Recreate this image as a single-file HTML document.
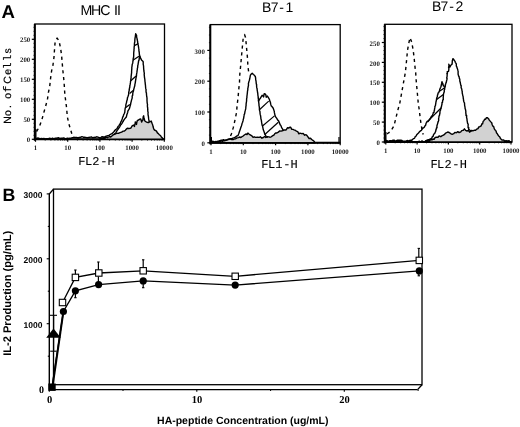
<!DOCTYPE html>
<html><head><meta charset="utf-8"><style>html,body{margin:0;padding:0;background:#fff;width:520px;height:427px;overflow:hidden;}svg{display:block;will-change:transform;text-rendering:geometricPrecision;}</style></head>
<body><svg width="520" height="427" viewBox="0 0 520 427"><style>
.t{font-family:"Liberation Sans",sans-serif;}
.tk{font-family:"Liberation Serif",serif;font-weight:bold;font-size:6.8px;fill:#222;}
.ax{font-family:"Liberation Sans",sans-serif;font-size:11px;fill:#000;stroke:#000;stroke-width:0.3px;}
.h{fill:none;stroke:#000;stroke-width:1.4;stroke-linejoin:round;}
.d{fill:none;stroke:#000;stroke-width:1.4;stroke-dasharray:3.2 3.6;}
.g{fill:#d2d2d2;stroke:#000;stroke-width:1.4;stroke-linejoin:round;}
.yl{font-family:"Liberation Sans",sans-serif;font-size:10px;letter-spacing:2.2px;fill:#000;stroke:#000;stroke-width:0.25px;}
.fr{fill:none;stroke:#000;stroke-width:1.3;}
</style>
<text class="t" x="1.6" y="17.7" font-size="18.6" font-weight="bold">A</text>
<text class="t" x="2.4" y="200.9" font-size="17.8" font-weight="bold">B</text>
<rect class="fr" x="34.8" y="24" width="129.7" height="115.30000000000001"/>
<line x1="34.8" y1="24" x2="34.8" y2="140.8" stroke="#000" stroke-width="2"/>
<line x1="34.8" y1="139.3" x2="164.5" y2="139.3" stroke="#000" stroke-width="2"/>
<line x1="33.4" y1="139.3" x2="34.8" y2="139.3" stroke="#000" stroke-width="0.7"/>
<line x1="33.4" y1="135.3" x2="34.8" y2="135.3" stroke="#000" stroke-width="0.7"/>
<line x1="33.4" y1="131.3" x2="34.8" y2="131.3" stroke="#000" stroke-width="0.7"/>
<line x1="33.4" y1="127.3" x2="34.8" y2="127.3" stroke="#000" stroke-width="0.7"/>
<line x1="33.4" y1="123.3" x2="34.8" y2="123.3" stroke="#000" stroke-width="0.7"/>
<line x1="33.4" y1="119.3" x2="34.8" y2="119.3" stroke="#000" stroke-width="0.7"/>
<line x1="33.4" y1="115.3" x2="34.8" y2="115.3" stroke="#000" stroke-width="0.7"/>
<line x1="33.4" y1="111.3" x2="34.8" y2="111.3" stroke="#000" stroke-width="0.7"/>
<line x1="33.4" y1="107.3" x2="34.8" y2="107.3" stroke="#000" stroke-width="0.7"/>
<line x1="33.4" y1="103.3" x2="34.8" y2="103.3" stroke="#000" stroke-width="0.7"/>
<line x1="33.4" y1="99.3" x2="34.8" y2="99.3" stroke="#000" stroke-width="0.7"/>
<line x1="33.4" y1="95.3" x2="34.8" y2="95.3" stroke="#000" stroke-width="0.7"/>
<line x1="33.4" y1="91.3" x2="34.8" y2="91.3" stroke="#000" stroke-width="0.7"/>
<line x1="33.4" y1="87.3" x2="34.8" y2="87.3" stroke="#000" stroke-width="0.7"/>
<line x1="33.4" y1="83.3" x2="34.8" y2="83.3" stroke="#000" stroke-width="0.7"/>
<line x1="33.4" y1="79.3" x2="34.8" y2="79.3" stroke="#000" stroke-width="0.7"/>
<line x1="33.4" y1="75.3" x2="34.8" y2="75.3" stroke="#000" stroke-width="0.7"/>
<line x1="33.4" y1="71.3" x2="34.8" y2="71.3" stroke="#000" stroke-width="0.7"/>
<line x1="33.4" y1="67.3" x2="34.8" y2="67.3" stroke="#000" stroke-width="0.7"/>
<line x1="33.4" y1="63.3" x2="34.8" y2="63.3" stroke="#000" stroke-width="0.7"/>
<line x1="33.4" y1="59.3" x2="34.8" y2="59.3" stroke="#000" stroke-width="0.7"/>
<line x1="33.4" y1="55.3" x2="34.8" y2="55.3" stroke="#000" stroke-width="0.7"/>
<line x1="33.4" y1="51.3" x2="34.8" y2="51.3" stroke="#000" stroke-width="0.7"/>
<line x1="33.4" y1="47.3" x2="34.8" y2="47.3" stroke="#000" stroke-width="0.7"/>
<line x1="33.4" y1="43.3" x2="34.8" y2="43.3" stroke="#000" stroke-width="0.7"/>
<line x1="33.4" y1="39.3" x2="34.8" y2="39.3" stroke="#000" stroke-width="0.7"/>
<line x1="33.4" y1="35.3" x2="34.8" y2="35.3" stroke="#000" stroke-width="0.7"/>
<line x1="33.4" y1="31.3" x2="34.8" y2="31.3" stroke="#000" stroke-width="0.7"/>
<line x1="33.4" y1="27.3" x2="34.8" y2="27.3" stroke="#000" stroke-width="0.7"/>
<line x1="31.799999999999997" y1="139.3" x2="34.8" y2="139.3" stroke="#000" stroke-width="1.2"/>
<text class="tk" x="30.2" y="142.4" text-anchor="end">0</text>
<line x1="31.799999999999997" y1="119.30000000000001" x2="34.8" y2="119.30000000000001" stroke="#000" stroke-width="1.2"/>
<text class="tk" x="30.2" y="122.4" text-anchor="end">50</text>
<line x1="31.799999999999997" y1="99.30000000000001" x2="34.8" y2="99.30000000000001" stroke="#000" stroke-width="1.2"/>
<text class="tk" x="30.2" y="102.4" text-anchor="end">100</text>
<line x1="31.799999999999997" y1="79.30000000000001" x2="34.8" y2="79.30000000000001" stroke="#000" stroke-width="1.2"/>
<text class="tk" x="30.2" y="82.4" text-anchor="end">150</text>
<line x1="31.799999999999997" y1="59.30000000000001" x2="34.8" y2="59.30000000000001" stroke="#000" stroke-width="1.2"/>
<text class="tk" x="30.2" y="62.40000000000001" text-anchor="end">200</text>
<line x1="31.799999999999997" y1="39.30000000000001" x2="34.8" y2="39.30000000000001" stroke="#000" stroke-width="1.2"/>
<text class="tk" x="30.2" y="42.40000000000001" text-anchor="end">250</text>
<line x1="35.5" y1="139.3" x2="35.5" y2="141.8" stroke="#000" stroke-width="1.2"/>
<text class="tk" x="35.5" y="150.3" text-anchor="middle">1</text>
<line x1="45.2" y1="139.3" x2="45.2" y2="140.60000000000002" stroke="#000" stroke-width="0.8"/>
<line x1="50.9" y1="139.3" x2="50.9" y2="140.60000000000002" stroke="#000" stroke-width="0.8"/>
<line x1="54.9" y1="139.3" x2="54.9" y2="140.60000000000002" stroke="#000" stroke-width="0.8"/>
<line x1="58.0" y1="139.3" x2="58.0" y2="140.60000000000002" stroke="#000" stroke-width="0.8"/>
<line x1="60.6" y1="139.3" x2="60.6" y2="140.60000000000002" stroke="#000" stroke-width="0.8"/>
<line x1="62.7" y1="139.3" x2="62.7" y2="140.60000000000002" stroke="#000" stroke-width="0.8"/>
<line x1="64.6" y1="139.3" x2="64.6" y2="140.60000000000002" stroke="#000" stroke-width="0.8"/>
<line x1="66.2" y1="139.3" x2="66.2" y2="140.60000000000002" stroke="#000" stroke-width="0.8"/>
<line x1="67.7" y1="139.3" x2="67.7" y2="141.8" stroke="#000" stroke-width="1.2"/>
<text class="tk" x="67.7" y="150.3" text-anchor="middle">10</text>
<line x1="77.4" y1="139.3" x2="77.4" y2="140.60000000000002" stroke="#000" stroke-width="0.8"/>
<line x1="83.1" y1="139.3" x2="83.1" y2="140.60000000000002" stroke="#000" stroke-width="0.8"/>
<line x1="87.1" y1="139.3" x2="87.1" y2="140.60000000000002" stroke="#000" stroke-width="0.8"/>
<line x1="90.2" y1="139.3" x2="90.2" y2="140.60000000000002" stroke="#000" stroke-width="0.8"/>
<line x1="92.8" y1="139.3" x2="92.8" y2="140.60000000000002" stroke="#000" stroke-width="0.8"/>
<line x1="94.9" y1="139.3" x2="94.9" y2="140.60000000000002" stroke="#000" stroke-width="0.8"/>
<line x1="96.8" y1="139.3" x2="96.8" y2="140.60000000000002" stroke="#000" stroke-width="0.8"/>
<line x1="98.4" y1="139.3" x2="98.4" y2="140.60000000000002" stroke="#000" stroke-width="0.8"/>
<line x1="99.9" y1="139.3" x2="99.9" y2="141.8" stroke="#000" stroke-width="1.2"/>
<text class="tk" x="99.9" y="150.3" text-anchor="middle">100</text>
<line x1="109.6" y1="139.3" x2="109.6" y2="140.60000000000002" stroke="#000" stroke-width="0.8"/>
<line x1="115.3" y1="139.3" x2="115.3" y2="140.60000000000002" stroke="#000" stroke-width="0.8"/>
<line x1="119.3" y1="139.3" x2="119.3" y2="140.60000000000002" stroke="#000" stroke-width="0.8"/>
<line x1="122.4" y1="139.3" x2="122.4" y2="140.60000000000002" stroke="#000" stroke-width="0.8"/>
<line x1="125.0" y1="139.3" x2="125.0" y2="140.60000000000002" stroke="#000" stroke-width="0.8"/>
<line x1="127.1" y1="139.3" x2="127.1" y2="140.60000000000002" stroke="#000" stroke-width="0.8"/>
<line x1="129.0" y1="139.3" x2="129.0" y2="140.60000000000002" stroke="#000" stroke-width="0.8"/>
<line x1="130.6" y1="139.3" x2="130.6" y2="140.60000000000002" stroke="#000" stroke-width="0.8"/>
<line x1="132.10000000000002" y1="139.3" x2="132.10000000000002" y2="141.8" stroke="#000" stroke-width="1.2"/>
<text class="tk" x="132.10000000000002" y="150.3" text-anchor="middle">1000</text>
<line x1="141.8" y1="139.3" x2="141.8" y2="140.60000000000002" stroke="#000" stroke-width="0.8"/>
<line x1="147.5" y1="139.3" x2="147.5" y2="140.60000000000002" stroke="#000" stroke-width="0.8"/>
<line x1="151.5" y1="139.3" x2="151.5" y2="140.60000000000002" stroke="#000" stroke-width="0.8"/>
<line x1="154.6" y1="139.3" x2="154.6" y2="140.60000000000002" stroke="#000" stroke-width="0.8"/>
<line x1="157.2" y1="139.3" x2="157.2" y2="140.60000000000002" stroke="#000" stroke-width="0.8"/>
<line x1="159.3" y1="139.3" x2="159.3" y2="140.60000000000002" stroke="#000" stroke-width="0.8"/>
<line x1="161.2" y1="139.3" x2="161.2" y2="140.60000000000002" stroke="#000" stroke-width="0.8"/>
<line x1="162.8" y1="139.3" x2="162.8" y2="140.60000000000002" stroke="#000" stroke-width="0.8"/>
<line x1="164.3" y1="139.3" x2="164.3" y2="141.8" stroke="#000" stroke-width="1.2"/>
<text class="tk" x="164.3" y="150.3" text-anchor="middle">10000</text>
<text x="80.54 91.04 100.28 108.00 113.89 116.99" y="14.5" style="font-family:'Liberation Sans',sans-serif;font-size:14.2px" fill="#000">MHC II</text>
<text x="78.26 84.91 92.36 100.14 107.55" y="164.9" style="font-family:'Liberation Mono',monospace;font-size:12.0px" fill="#000" stroke="#000" stroke-width="0.1">FL2-H</text>
<text transform="translate(10.7,0) rotate(-90)" y="0" fill="#000" stroke="#000" stroke-width="0.2"><tspan x="-123.66" style="font-family:'Liberation Sans',sans-serif;font-size:10.5px">N</tspan><tspan x="-115.94" style="font-family:'Liberation Sans',sans-serif;font-size:10.5px">o</tspan><tspan x="-108.06" style="font-family:'Liberation Sans',sans-serif;font-size:10.5px">.</tspan><tspan x="-98.74" style="font-family:'Liberation Sans',sans-serif;font-size:10.5px">o</tspan><tspan x="-92.14" style="font-family:'Liberation Mono',monospace;font-size:11px">f</tspan><tspan x="-83.83" style="font-family:'Liberation Sans',sans-serif;font-size:10.5px">C</tspan><tspan x="-74.85" style="font-family:'Liberation Sans',sans-serif;font-size:10.5px">e</tspan><tspan x="-69.03" style="font-family:'Liberation Mono',monospace;font-size:11px">l</tspan><tspan x="-61.13" style="font-family:'Liberation Mono',monospace;font-size:11px">l</tspan><tspan x="-53.59" style="font-family:'Liberation Sans',sans-serif;font-size:10.5px">s</tspan></text>
<polygon class="g" points="100.0,139.3 100.0,138.6 101.4,138.2 102.5,138.1 103.7,137.8 105.0,137.8 106.3,137.1 107.8,137.5 109.5,136.5 110.7,137.0 111.8,136.1 112.9,135.0 114.3,134.4 115.4,133.8 116.7,133.4 118.4,133.3 120.0,132.6 121.6,132.1 123.2,131.1 124.4,131.1 125.4,130.2 126.3,129.1 127.3,128.3 128.8,128.5 130.1,128.4 131.1,127.8 131.9,126.2 133.5,125.1 134.5,126.4 134.6,125.2 135.2,123.3 135.3,121.9 136.5,124.4 136.8,122.3 137.3,120.7 138.7,119.8 139.8,119.1 140.7,118.9 141.2,120.5 141.7,122.0 142.2,120.7 142.9,120.0 143.0,118.8 143.2,116.9 143.7,115.8 143.8,117.5 144.1,118.2 144.5,119.6 144.6,120.7 146.6,122.2 148.1,122.7 149.7,121.8 151.2,121.1 152.1,123.5 152.4,124.1 153.0,126.1 153.1,126.8 153.7,128.9 154.5,130.0 155.7,130.6 156.5,131.1 157.4,132.9 158.4,133.6 159.4,134.9 160.5,135.5 161.4,137.1 162.3,137.8 163.4,139.3"/>
<path class="h" d="M35.5,138.3 L36.7,138.5 L38.0,138.0 L39.0,138.3 L40.3,138.7 L41.6,138.5 L42.8,138.6 L43.9,138.4 L45.1,138.9 L46.3,138.8 L47.5,138.7 L48.7,138.5 L50.1,138.2 L51.1,138.9 L52.5,138.1 L53.9,138.9 L54.9,138.3 L56.2,138.2 L57.5,138.0 L58.8,137.8 L59.9,138.5 L61.2,138.2 L62.5,138.2 L63.7,137.9 L65.1,138.7 L66.4,138.5 L67.5,138.2 L68.8,138.5 L69.9,138.2 L71.3,138.0 L72.8,137.6 L73.9,137.5 L75.3,137.4 L76.6,137.5 L78.0,138.0 L79.2,137.5 L80.6,137.3 L81.9,136.6 L83.3,137.2 L84.5,137.3 L85.9,137.4 L87.3,137.8 L88.7,137.5 L89.9,137.3 L91.3,136.9 L92.7,137.8 L93.9,137.5 L95.4,137.3 L96.6,136.8 L97.9,137.1 L100.1,138.0 L102.1,136.7 L103.5,137.0 L105.0,136.6 L106.2,136.1 L107.7,135.7 L109.0,135.4 L110.6,134.2 L111.5,133.9 L112.6,133.1 L113.7,132.0 L114.8,130.5 L115.7,129.5 L116.8,128.9 L117.4,128.0 L118.1,126.4 L118.8,126.0 L119.5,124.6 L120.3,123.5 L121.0,121.6 L121.6,120.7 L122.2,118.9 L122.6,117.3 L123.3,116.1 L123.6,114.8 L124.3,113.5 L124.8,112.2 L124.9,110.8 L125.1,108.9 L125.3,107.9 L125.7,106.9 L125.8,105.6 L126.0,104.1 L126.5,102.6 L126.7,101.2 L127.2,99.8 L127.5,97.6 L127.9,96.7 L128.5,95.1 L128.7,93.6 L128.7,92.4 L129.1,90.8 L129.3,89.7 L129.4,88.5 L129.8,87.0 L129.8,86.0 L130.0,85.0 L130.2,84.2 L130.4,82.9 L130.5,81.5 L130.8,80.6 L130.8,79.0 L131.1,78.1 L131.1,76.5 L131.3,75.1 L131.4,74.1 L131.6,72.7 L131.6,71.3 L131.7,70.0 L131.8,68.7 L131.8,67.3 L132.0,66.3 L132.2,64.6 L132.6,63.5 L132.8,62.4 L132.9,61.4 L133.2,59.6 L133.2,58.5 L133.6,57.2 L133.7,55.7 L133.7,54.3 L133.7,53.2 L133.8,51.9 L134.0,50.4 L134.0,49.2 L134.2,48.2 L134.1,47.2 L134.4,45.9 L134.4,44.5 L134.5,42.7 L134.8,42.1 L134.8,40.9 L134.9,39.1 L135.1,37.7 L135.3,36.8 L135.5,35.0 L135.7,33.7 L136.6,35.6 L136.6,37.1 L137.0,38.3 L137.2,39.8 L137.5,40.9 L137.6,42.0 L137.8,43.1 L138.0,44.4 L138.3,45.4 L138.5,46.8 L138.7,48.2 L138.9,49.4 L138.9,50.4 L139.1,52.0 L139.3,52.7 L139.3,53.9 L139.5,55.1 L140.1,56.8 L140.7,58.4 L141.5,59.9 L143.1,61.5 L143.2,62.2 L143.2,64.3 L143.4,65.0 L143.6,66.5 L143.6,67.8 L143.7,68.9 L143.9,71.0 L144.1,72.1 L144.3,73.1 L144.2,74.9 L144.4,76.0 L144.4,76.9 L144.7,78.7 L144.9,80.0 L144.9,81.0 L145.2,82.8 L145.2,83.3 L145.4,84.8 L145.5,85.8 L145.6,87.3 L145.7,88.4 L146.1,89.8 L146.0,90.7 L146.1,92.2 L146.4,92.9 L146.5,94.5 L146.6,95.5 L146.7,96.7 L147.0,97.9 L147.0,99.3 L147.0,100.5 L147.1,101.8 L147.2,103.1 L147.5,104.4 L147.4,106.0 L147.5,107.2 L147.7,108.1 L147.7,109.4 L147.8,111.3 L148.1,112.4 L148.0,113.5 L148.1,115.1 L148.3,115.7 L148.5,117.3 L148.6,118.4 L148.8,119.7 L149.1,120.8 L149.2,122.1"/>
<path class="h" d="M113.7,134.5 L114.7,133.8 L115.8,133.2 L116.4,131.6 L117.1,130.5 L118.0,129.4 L118.6,128.4 L119.2,127.5 L119.9,126.6 L120.4,125.3 L121.1,124.6 L122.0,123.3 L122.7,122.0 L123.4,121.0 L123.9,120.0 L124.7,118.9 L126.3,117.0 L126.6,115.8 L126.9,114.3 L127.3,113.6 L127.7,112.2 L127.9,111.0 L128.6,109.9 L129.5,108.4 L129.7,107.5 L130.1,106.1 L130.5,104.8 L130.7,103.7 L131.0,102.2 L131.3,101.1 L131.5,100.1 L132.0,98.6 L132.2,97.8 L132.2,95.9 L132.7,95.3 L132.8,93.2 L133.0,92.2 L133.5,90.8 L133.7,89.5 L134.1,88.1 L134.4,87.0 L134.8,85.6 L134.9,84.3 L135.2,83.1 L135.4,82.0 L135.6,80.4 L135.8,79.5 L136.0,78.0 L136.2,77.1 L136.5,75.8 L136.5,74.5 L136.8,72.9 L136.9,72.4 L137.1,70.6 L137.3,69.6 L137.4,68.3 L137.7,67.4 L137.7,65.7 L138.0,65.0 L138.2,63.4 L138.5,62.0 L138.6,60.9 L139.1,59.9 L139.2,58.6 L139.6,57.0 L139.8,56.0"/>
<line x1="134.3" y1="45.6" x2="138.4" y2="43.6" stroke="#000" stroke-width="1.3"/>
<line x1="132.9" y1="60.3" x2="139.4" y2="56" stroke="#000" stroke-width="1.3"/>
<line x1="130.8" y1="80.8" x2="136.1" y2="76.1" stroke="#000" stroke-width="1.3"/>
<line x1="129.6" y1="93.5" x2="133.2" y2="90.6" stroke="#000" stroke-width="1.3"/>
<line x1="125.8" y1="107.5" x2="129.8" y2="104.5" stroke="#000" stroke-width="1.3"/>
<line x1="35.8" y1="139" x2="35.8" y2="129" stroke="#000" stroke-width="1.4"/>
<path class="d" d="M36.5,131.5 L37.5,130.0 L39.5,126.4 L41.8,120.0 L43.7,113.0 L45.5,106.7 L47.4,99.7 L48.4,92.7 L49.8,85.6 L50.6,78.2 L51.6,70.8 L52.9,65.6 L54.0,57.1 L54.5,49.8 L55.0,43.4 L56.0,40.0 L57.1,38.2 L58.2,39.5 L59.2,41.8 L60.6,48.2 L61.6,55.5 L62.2,62.9 L62.9,70.8 L63.7,78.2 L64.3,85.6 L64.8,94.0 L65.7,101.0 L66.6,108.0 L67.3,116.6 L68.8,123.6 L70.9,130.6 L72.3,135.6 L74.0,137.5"/>
<rect class="fr" x="210.3" y="24.6" width="129.89999999999998" height="118.20000000000002"/>
<line x1="210.3" y1="24.6" x2="210.3" y2="144.3" stroke="#000" stroke-width="2"/>
<line x1="210.3" y1="142.8" x2="340.2" y2="142.8" stroke="#000" stroke-width="2"/>
<line x1="208.9" y1="142.8" x2="210.3" y2="142.8" stroke="#000" stroke-width="0.7"/>
<line x1="208.9" y1="135.1" x2="210.3" y2="135.1" stroke="#000" stroke-width="0.7"/>
<line x1="208.9" y1="127.4" x2="210.3" y2="127.4" stroke="#000" stroke-width="0.7"/>
<line x1="208.9" y1="119.7" x2="210.3" y2="119.7" stroke="#000" stroke-width="0.7"/>
<line x1="208.9" y1="112.0" x2="210.3" y2="112.0" stroke="#000" stroke-width="0.7"/>
<line x1="208.9" y1="104.3" x2="210.3" y2="104.3" stroke="#000" stroke-width="0.7"/>
<line x1="208.9" y1="96.6" x2="210.3" y2="96.6" stroke="#000" stroke-width="0.7"/>
<line x1="208.9" y1="88.9" x2="210.3" y2="88.9" stroke="#000" stroke-width="0.7"/>
<line x1="208.9" y1="81.2" x2="210.3" y2="81.2" stroke="#000" stroke-width="0.7"/>
<line x1="208.9" y1="73.5" x2="210.3" y2="73.5" stroke="#000" stroke-width="0.7"/>
<line x1="208.9" y1="65.8" x2="210.3" y2="65.8" stroke="#000" stroke-width="0.7"/>
<line x1="208.9" y1="58.1" x2="210.3" y2="58.1" stroke="#000" stroke-width="0.7"/>
<line x1="208.9" y1="50.4" x2="210.3" y2="50.4" stroke="#000" stroke-width="0.7"/>
<line x1="208.9" y1="42.7" x2="210.3" y2="42.7" stroke="#000" stroke-width="0.7"/>
<line x1="208.9" y1="35.0" x2="210.3" y2="35.0" stroke="#000" stroke-width="0.7"/>
<line x1="208.9" y1="27.3" x2="210.3" y2="27.3" stroke="#000" stroke-width="0.7"/>
<line x1="207.3" y1="142.8" x2="210.3" y2="142.8" stroke="#000" stroke-width="1.2"/>
<text class="tk" x="204.8" y="145.9" text-anchor="end">0</text>
<line x1="207.3" y1="112.00000000000001" x2="210.3" y2="112.00000000000001" stroke="#000" stroke-width="1.2"/>
<text class="tk" x="204.8" y="115.10000000000001" text-anchor="end">100</text>
<line x1="207.3" y1="81.20000000000002" x2="210.3" y2="81.20000000000002" stroke="#000" stroke-width="1.2"/>
<text class="tk" x="204.8" y="84.30000000000001" text-anchor="end">200</text>
<line x1="207.3" y1="50.400000000000006" x2="210.3" y2="50.400000000000006" stroke="#000" stroke-width="1.2"/>
<text class="tk" x="204.8" y="53.50000000000001" text-anchor="end">300</text>
<line x1="211.0" y1="142.8" x2="211.0" y2="145.3" stroke="#000" stroke-width="1.2"/>
<text class="tk" x="211.0" y="153.8" text-anchor="middle">1</text>
<line x1="220.7" y1="142.8" x2="220.7" y2="144.10000000000002" stroke="#000" stroke-width="0.8"/>
<line x1="226.4" y1="142.8" x2="226.4" y2="144.10000000000002" stroke="#000" stroke-width="0.8"/>
<line x1="230.4" y1="142.8" x2="230.4" y2="144.10000000000002" stroke="#000" stroke-width="0.8"/>
<line x1="233.6" y1="142.8" x2="233.6" y2="144.10000000000002" stroke="#000" stroke-width="0.8"/>
<line x1="236.1" y1="142.8" x2="236.1" y2="144.10000000000002" stroke="#000" stroke-width="0.8"/>
<line x1="238.3" y1="142.8" x2="238.3" y2="144.10000000000002" stroke="#000" stroke-width="0.8"/>
<line x1="240.2" y1="142.8" x2="240.2" y2="144.10000000000002" stroke="#000" stroke-width="0.8"/>
<line x1="241.8" y1="142.8" x2="241.8" y2="144.10000000000002" stroke="#000" stroke-width="0.8"/>
<line x1="243.3" y1="142.8" x2="243.3" y2="145.3" stroke="#000" stroke-width="1.2"/>
<text class="tk" x="243.3" y="153.8" text-anchor="middle">10</text>
<line x1="253.0" y1="142.8" x2="253.0" y2="144.10000000000002" stroke="#000" stroke-width="0.8"/>
<line x1="258.7" y1="142.8" x2="258.7" y2="144.10000000000002" stroke="#000" stroke-width="0.8"/>
<line x1="262.7" y1="142.8" x2="262.7" y2="144.10000000000002" stroke="#000" stroke-width="0.8"/>
<line x1="265.9" y1="142.8" x2="265.9" y2="144.10000000000002" stroke="#000" stroke-width="0.8"/>
<line x1="268.4" y1="142.8" x2="268.4" y2="144.10000000000002" stroke="#000" stroke-width="0.8"/>
<line x1="270.6" y1="142.8" x2="270.6" y2="144.10000000000002" stroke="#000" stroke-width="0.8"/>
<line x1="272.5" y1="142.8" x2="272.5" y2="144.10000000000002" stroke="#000" stroke-width="0.8"/>
<line x1="274.1" y1="142.8" x2="274.1" y2="144.10000000000002" stroke="#000" stroke-width="0.8"/>
<line x1="275.6" y1="142.8" x2="275.6" y2="145.3" stroke="#000" stroke-width="1.2"/>
<text class="tk" x="275.6" y="153.8" text-anchor="middle">100</text>
<line x1="285.3" y1="142.8" x2="285.3" y2="144.10000000000002" stroke="#000" stroke-width="0.8"/>
<line x1="291.0" y1="142.8" x2="291.0" y2="144.10000000000002" stroke="#000" stroke-width="0.8"/>
<line x1="295.0" y1="142.8" x2="295.0" y2="144.10000000000002" stroke="#000" stroke-width="0.8"/>
<line x1="298.2" y1="142.8" x2="298.2" y2="144.10000000000002" stroke="#000" stroke-width="0.8"/>
<line x1="300.7" y1="142.8" x2="300.7" y2="144.10000000000002" stroke="#000" stroke-width="0.8"/>
<line x1="302.9" y1="142.8" x2="302.9" y2="144.10000000000002" stroke="#000" stroke-width="0.8"/>
<line x1="304.8" y1="142.8" x2="304.8" y2="144.10000000000002" stroke="#000" stroke-width="0.8"/>
<line x1="306.4" y1="142.8" x2="306.4" y2="144.10000000000002" stroke="#000" stroke-width="0.8"/>
<line x1="307.9" y1="142.8" x2="307.9" y2="145.3" stroke="#000" stroke-width="1.2"/>
<text class="tk" x="307.9" y="153.8" text-anchor="middle">1000</text>
<line x1="317.6" y1="142.8" x2="317.6" y2="144.10000000000002" stroke="#000" stroke-width="0.8"/>
<line x1="323.3" y1="142.8" x2="323.3" y2="144.10000000000002" stroke="#000" stroke-width="0.8"/>
<line x1="327.3" y1="142.8" x2="327.3" y2="144.10000000000002" stroke="#000" stroke-width="0.8"/>
<line x1="330.5" y1="142.8" x2="330.5" y2="144.10000000000002" stroke="#000" stroke-width="0.8"/>
<line x1="333.0" y1="142.8" x2="333.0" y2="144.10000000000002" stroke="#000" stroke-width="0.8"/>
<line x1="335.2" y1="142.8" x2="335.2" y2="144.10000000000002" stroke="#000" stroke-width="0.8"/>
<line x1="337.1" y1="142.8" x2="337.1" y2="144.10000000000002" stroke="#000" stroke-width="0.8"/>
<line x1="338.7" y1="142.8" x2="338.7" y2="144.10000000000002" stroke="#000" stroke-width="0.8"/>
<line x1="340.2" y1="142.8" x2="340.2" y2="145.3" stroke="#000" stroke-width="1.2"/>
<text class="tk" x="340.2" y="153.8" text-anchor="middle">10000</text>
<text x="261.95 270.78 279.28 285.43" y="11.8" style="font-family:'Liberation Sans',sans-serif;font-size:14px" fill="#000">B7-1</text>
<text x="261.26 267.91 275.13 283.14 290.55" y="168.3" style="font-family:'Liberation Mono',monospace;font-size:12.0px" fill="#000" stroke="#000" stroke-width="0.1">FL1-H</text>
<polygon class="g" points="212.0,142.8 213.0,142.8 214.5,142.2 215.5,142.5 216.9,141.8 218.0,141.1 219.2,141.0 220.8,140.3 222.3,140.3 223.5,139.7 225.2,140.6 226.6,140.1 227.6,139.4 229.2,138.9 230.8,139.0 231.8,139.5 233.1,139.6 234.6,138.9 235.8,138.7 237.0,137.9 238.5,137.6 239.6,137.0 240.9,137.5 241.9,136.7 243.2,136.0 244.3,135.0 245.8,134.0 247.0,134.5 247.9,133.1 248.9,134.0 250.2,134.8 251.5,135.6 253.1,137.3 254.2,136.8 255.5,137.4 257.6,137.3 259.2,137.4 260.4,136.8 261.9,138.2 263.3,137.5 264.6,136.5 265.8,137.5 267.5,136.6 268.8,136.9 270.2,137.2 271.2,136.8 272.8,135.6 274.0,135.0 274.7,133.8 275.9,132.9 276.5,133.1 278.3,132.1 279.8,130.9 280.9,131.1 282.5,130.7 284.2,129.9 286.1,130.0 287.4,127.8 288.6,128.0 290.2,127.2 290.7,127.3 291.8,129.3 293.0,129.4 294.0,129.8 295.4,130.3 296.4,131.2 297.7,131.6 298.9,133.8 300.0,133.2 301.8,133.7 303.2,133.4 304.6,135.2 306.0,134.7 306.8,135.4 307.9,136.8 309.1,138.5 310.5,138.2 311.7,139.5 312.9,140.3 314.0,141.2 315.0,142.8"/>
<path class="h" d="M211.5,141.5 L213.1,141.3 L214.4,142.1 L215.9,141.5 L217.2,141.6 L218.5,141.5 L219.7,141.5 L220.8,142.0 L222.0,141.9 L223.3,140.8 L224.5,140.8 L225.6,140.0 L227.0,139.9 L228.2,139.6 L229.4,139.1 L230.6,138.7 L231.7,138.6 L232.9,138.1 L234.3,137.6 L235.4,137.1 L236.8,136.0 L237.9,135.6 L238.3,134.7 L238.9,133.2 L239.3,132.1 L239.8,130.6 L240.1,129.7 L240.5,128.5 L241.0,127.1 L241.4,126.0 L241.7,125.1 L242.1,123.3 L242.5,122.5 L243.0,120.9 L243.3,119.3 L243.7,118.1 L243.8,117.1 L244.0,115.9 L244.2,114.5 L244.6,113.9 L244.9,112.2 L245.1,110.9 L245.3,110.4 L245.7,108.9 L245.8,107.7 L245.9,106.5 L246.1,105.4 L246.1,104.1 L246.3,102.6 L246.5,101.7 L246.6,100.5 L246.6,98.9 L246.9,97.6 L246.9,96.6 L247.1,95.0 L247.2,94.3 L247.4,92.4 L247.5,91.2 L247.8,89.9 L247.8,88.5 L248.1,87.3 L248.2,86.5 L248.5,85.3 L248.4,83.7 L248.8,82.1 L249.0,81.2 L249.4,80.2 L249.8,78.5 L250.1,76.8 L250.4,75.2 L251.3,74.0 L252.2,73.2 L253.4,74.5 L254.4,75.3 L255.3,76.5 L255.6,77.9 L255.7,80.0 L256.0,80.7 L256.1,82.0 L256.3,83.9 L256.6,84.6 L256.6,86.4 L256.8,87.7 L257.1,88.8 L257.2,90.3 L257.4,91.0 L257.5,92.2 L257.8,93.7 L257.9,95.3 L258.1,96.1 L258.2,98.0 L258.4,99.0 L258.5,100.2 L258.6,101.3 L258.8,102.8 L259.0,104.6 L259.0,105.6 L259.3,106.9 L259.4,108.3 L259.4,109.8 L259.7,110.9 L260.0,111.7 L260.0,113.0 L260.3,114.9 L260.6,115.8 L260.8,117.3 L260.9,118.8 L261.3,119.9 L261.5,121.3 L261.6,122.2 L261.8,123.3 L262.1,125.1 L262.4,125.6 L262.7,126.9 L263.0,128.4 L263.3,129.8 L263.8,131.1 L264.3,132.4 L264.8,134.2 L265.6,135.1 L266.0,136.9 L268.0,137.0"/>
<path class="h" d="M257.8,101.2 L258.8,100.8 L259.6,99.1 L260.3,98.4 L261.0,97.1 L261.5,96.3 L262.1,95.3 L262.7,95.7 L263.6,96.9 L263.8,96.1 L264.0,94.2 L264.4,93.6 L265.4,94.1 L265.8,94.9 L266.0,95.9 L266.2,97.2 L267.4,96.1 L268.7,98.1 L269.2,99.0 L269.6,100.0 L269.9,101.3 L270.4,102.2 L270.5,103.1 L270.8,104.4 L271.2,105.9 L271.7,106.3 L272.3,107.0 L273.1,108.0 L273.3,108.6 L273.9,110.2 L274.2,110.9 L274.4,112.7 L274.7,113.9 L274.9,115.1 L275.2,115.7 L275.8,117.1 L276.6,118.2 L277.2,119.1 L277.7,120.1 L278.3,120.4 L278.8,121.4 L279.1,122.1 L279.6,123.2 L280.2,124.9 L280.5,125.0 L281.1,126.0 L281.6,127.6 L282.0,128.2 L282.6,129.1 L283.2,130.3 L283.9,130.7"/>
<line x1="259.7" y1="109.5" x2="268.7" y2="101.1" stroke="#000" stroke-width="1.2"/>
<line x1="262.2" y1="126.2" x2="274.5" y2="115.9" stroke="#000" stroke-width="1.2"/>
<line x1="264.8" y1="134.5" x2="278.3" y2="122.3" stroke="#000" stroke-width="1.2"/>
<line x1="211.3" y1="142.5" x2="211.3" y2="137" stroke="#000" stroke-width="1.4"/>
<line x1="339" y1="142.5" x2="339" y2="137" stroke="#000" stroke-width="1.2"/>
<path class="d" d="M230.5,136.0 L231.4,134.0 L233.4,127.2 L234.9,120.3 L236.5,112.7 L237.2,104.4 L238.0,98.3 L238.7,89.9 L239.5,82.3 L239.8,74.4 L240.5,67.4 L241.2,59.6 L241.9,51.9 L242.6,44.2 L243.3,37.1 L244.7,35.0 L245.5,37.5 L246.1,42.8 L246.8,50.5 L247.5,58.2 L247.9,66.0 L248.6,71.5 L249.5,73.5"/>
<rect class="fr" x="384.8" y="24.3" width="127.19999999999999" height="117.7"/>
<line x1="384.8" y1="24.3" x2="384.8" y2="143.5" stroke="#000" stroke-width="2"/>
<line x1="384.8" y1="142" x2="512" y2="142" stroke="#000" stroke-width="2"/>
<line x1="383.4" y1="142.0" x2="384.8" y2="142.0" stroke="#000" stroke-width="0.7"/>
<line x1="383.4" y1="138.0" x2="384.8" y2="138.0" stroke="#000" stroke-width="0.7"/>
<line x1="383.4" y1="134.0" x2="384.8" y2="134.0" stroke="#000" stroke-width="0.7"/>
<line x1="383.4" y1="130.1" x2="384.8" y2="130.1" stroke="#000" stroke-width="0.7"/>
<line x1="383.4" y1="126.1" x2="384.8" y2="126.1" stroke="#000" stroke-width="0.7"/>
<line x1="383.4" y1="122.1" x2="384.8" y2="122.1" stroke="#000" stroke-width="0.7"/>
<line x1="383.4" y1="118.1" x2="384.8" y2="118.1" stroke="#000" stroke-width="0.7"/>
<line x1="383.4" y1="114.1" x2="384.8" y2="114.1" stroke="#000" stroke-width="0.7"/>
<line x1="383.4" y1="110.2" x2="384.8" y2="110.2" stroke="#000" stroke-width="0.7"/>
<line x1="383.4" y1="106.2" x2="384.8" y2="106.2" stroke="#000" stroke-width="0.7"/>
<line x1="383.4" y1="102.2" x2="384.8" y2="102.2" stroke="#000" stroke-width="0.7"/>
<line x1="383.4" y1="98.2" x2="384.8" y2="98.2" stroke="#000" stroke-width="0.7"/>
<line x1="383.4" y1="94.2" x2="384.8" y2="94.2" stroke="#000" stroke-width="0.7"/>
<line x1="383.4" y1="90.3" x2="384.8" y2="90.3" stroke="#000" stroke-width="0.7"/>
<line x1="383.4" y1="86.3" x2="384.8" y2="86.3" stroke="#000" stroke-width="0.7"/>
<line x1="383.4" y1="82.3" x2="384.8" y2="82.3" stroke="#000" stroke-width="0.7"/>
<line x1="383.4" y1="78.3" x2="384.8" y2="78.3" stroke="#000" stroke-width="0.7"/>
<line x1="383.4" y1="74.3" x2="384.8" y2="74.3" stroke="#000" stroke-width="0.7"/>
<line x1="383.4" y1="70.4" x2="384.8" y2="70.4" stroke="#000" stroke-width="0.7"/>
<line x1="383.4" y1="66.4" x2="384.8" y2="66.4" stroke="#000" stroke-width="0.7"/>
<line x1="383.4" y1="62.4" x2="384.8" y2="62.4" stroke="#000" stroke-width="0.7"/>
<line x1="383.4" y1="58.4" x2="384.8" y2="58.4" stroke="#000" stroke-width="0.7"/>
<line x1="383.4" y1="54.4" x2="384.8" y2="54.4" stroke="#000" stroke-width="0.7"/>
<line x1="383.4" y1="50.5" x2="384.8" y2="50.5" stroke="#000" stroke-width="0.7"/>
<line x1="383.4" y1="46.5" x2="384.8" y2="46.5" stroke="#000" stroke-width="0.7"/>
<line x1="383.4" y1="42.5" x2="384.8" y2="42.5" stroke="#000" stroke-width="0.7"/>
<line x1="383.4" y1="38.5" x2="384.8" y2="38.5" stroke="#000" stroke-width="0.7"/>
<line x1="383.4" y1="34.5" x2="384.8" y2="34.5" stroke="#000" stroke-width="0.7"/>
<line x1="383.4" y1="30.6" x2="384.8" y2="30.6" stroke="#000" stroke-width="0.7"/>
<line x1="383.4" y1="26.6" x2="384.8" y2="26.6" stroke="#000" stroke-width="0.7"/>
<line x1="381.8" y1="142.0" x2="384.8" y2="142.0" stroke="#000" stroke-width="1.2"/>
<text class="tk" x="379.8" y="145.1" text-anchor="end">0</text>
<line x1="381.8" y1="122.1" x2="384.8" y2="122.1" stroke="#000" stroke-width="1.2"/>
<text class="tk" x="379.8" y="125.19999999999999" text-anchor="end">50</text>
<line x1="381.8" y1="102.2" x2="384.8" y2="102.2" stroke="#000" stroke-width="1.2"/>
<text class="tk" x="379.8" y="105.3" text-anchor="end">100</text>
<line x1="381.8" y1="82.30000000000001" x2="384.8" y2="82.30000000000001" stroke="#000" stroke-width="1.2"/>
<text class="tk" x="379.8" y="85.4" text-anchor="end">150</text>
<line x1="381.8" y1="62.400000000000006" x2="384.8" y2="62.400000000000006" stroke="#000" stroke-width="1.2"/>
<text class="tk" x="379.8" y="65.5" text-anchor="end">200</text>
<line x1="381.8" y1="42.5" x2="384.8" y2="42.5" stroke="#000" stroke-width="1.2"/>
<text class="tk" x="379.8" y="45.6" text-anchor="end">250</text>
<line x1="385.8" y1="142" x2="385.8" y2="144.5" stroke="#000" stroke-width="1.2"/>
<text class="tk" x="385.8" y="153.2" text-anchor="middle">1</text>
<line x1="395.2" y1="142" x2="395.2" y2="143.3" stroke="#000" stroke-width="0.8"/>
<line x1="400.7" y1="142" x2="400.7" y2="143.3" stroke="#000" stroke-width="0.8"/>
<line x1="404.6" y1="142" x2="404.6" y2="143.3" stroke="#000" stroke-width="0.8"/>
<line x1="407.7" y1="142" x2="407.7" y2="143.3" stroke="#000" stroke-width="0.8"/>
<line x1="410.2" y1="142" x2="410.2" y2="143.3" stroke="#000" stroke-width="0.8"/>
<line x1="412.3" y1="142" x2="412.3" y2="143.3" stroke="#000" stroke-width="0.8"/>
<line x1="414.1" y1="142" x2="414.1" y2="143.3" stroke="#000" stroke-width="0.8"/>
<line x1="415.7" y1="142" x2="415.7" y2="143.3" stroke="#000" stroke-width="0.8"/>
<line x1="417.1" y1="142" x2="417.1" y2="144.5" stroke="#000" stroke-width="1.2"/>
<text class="tk" x="417.1" y="153.2" text-anchor="middle">10</text>
<line x1="426.5" y1="142" x2="426.5" y2="143.3" stroke="#000" stroke-width="0.8"/>
<line x1="432.0" y1="142" x2="432.0" y2="143.3" stroke="#000" stroke-width="0.8"/>
<line x1="435.9" y1="142" x2="435.9" y2="143.3" stroke="#000" stroke-width="0.8"/>
<line x1="439.0" y1="142" x2="439.0" y2="143.3" stroke="#000" stroke-width="0.8"/>
<line x1="441.5" y1="142" x2="441.5" y2="143.3" stroke="#000" stroke-width="0.8"/>
<line x1="443.6" y1="142" x2="443.6" y2="143.3" stroke="#000" stroke-width="0.8"/>
<line x1="445.4" y1="142" x2="445.4" y2="143.3" stroke="#000" stroke-width="0.8"/>
<line x1="447.0" y1="142" x2="447.0" y2="143.3" stroke="#000" stroke-width="0.8"/>
<line x1="448.40000000000003" y1="142" x2="448.40000000000003" y2="144.5" stroke="#000" stroke-width="1.2"/>
<text class="tk" x="448.40000000000003" y="153.2" text-anchor="middle">100</text>
<line x1="457.8" y1="142" x2="457.8" y2="143.3" stroke="#000" stroke-width="0.8"/>
<line x1="463.3" y1="142" x2="463.3" y2="143.3" stroke="#000" stroke-width="0.8"/>
<line x1="467.2" y1="142" x2="467.2" y2="143.3" stroke="#000" stroke-width="0.8"/>
<line x1="470.3" y1="142" x2="470.3" y2="143.3" stroke="#000" stroke-width="0.8"/>
<line x1="472.8" y1="142" x2="472.8" y2="143.3" stroke="#000" stroke-width="0.8"/>
<line x1="474.9" y1="142" x2="474.9" y2="143.3" stroke="#000" stroke-width="0.8"/>
<line x1="476.7" y1="142" x2="476.7" y2="143.3" stroke="#000" stroke-width="0.8"/>
<line x1="478.3" y1="142" x2="478.3" y2="143.3" stroke="#000" stroke-width="0.8"/>
<line x1="479.70000000000005" y1="142" x2="479.70000000000005" y2="144.5" stroke="#000" stroke-width="1.2"/>
<text class="tk" x="479.70000000000005" y="153.2" text-anchor="middle">1000</text>
<line x1="489.1" y1="142" x2="489.1" y2="143.3" stroke="#000" stroke-width="0.8"/>
<line x1="494.6" y1="142" x2="494.6" y2="143.3" stroke="#000" stroke-width="0.8"/>
<line x1="498.5" y1="142" x2="498.5" y2="143.3" stroke="#000" stroke-width="0.8"/>
<line x1="501.6" y1="142" x2="501.6" y2="143.3" stroke="#000" stroke-width="0.8"/>
<line x1="504.1" y1="142" x2="504.1" y2="143.3" stroke="#000" stroke-width="0.8"/>
<line x1="506.2" y1="142" x2="506.2" y2="143.3" stroke="#000" stroke-width="0.8"/>
<line x1="508.0" y1="142" x2="508.0" y2="143.3" stroke="#000" stroke-width="0.8"/>
<line x1="509.6" y1="142" x2="509.6" y2="143.3" stroke="#000" stroke-width="0.8"/>
<line x1="511.0" y1="142" x2="511.0" y2="144.5" stroke="#000" stroke-width="1.2"/>
<text class="tk" x="511.0" y="153.2" text-anchor="middle">10000</text>
<text x="431.95 440.48 449.28 455.40" y="10.9" style="font-family:'Liberation Sans',sans-serif;font-size:14px" fill="#000">B7-2</text>
<text x="430.46 437.11 444.56 452.34 459.75" y="167.5" style="font-family:'Liberation Mono',monospace;font-size:12.0px" fill="#000" stroke="#000" stroke-width="0.1">FL2-H</text>
<polygon class="g" points="418.0,142.0 419.2,141.2 420.7,142.0 422.0,140.9 423.5,141.8 424.8,141.6 426.5,140.4 427.8,140.6 429.2,141.3 430.4,139.5 432.2,139.8 433.0,139.0 434.1,139.3 435.2,137.4 436.4,137.3 438.0,137.3 439.1,135.9 440.8,136.7 441.8,135.9 443.4,135.1 444.2,134.7 445.7,133.1 446.8,132.5 447.7,132.0 449.2,132.5 450.7,133.6 452.2,134.3 453.7,133.7 454.8,132.4 456.3,132.7 457.8,131.6 459.1,132.6 460.8,131.8 461.7,130.6 463.3,130.3 464.4,128.8 465.6,130.4 467.0,131.0 468.4,130.3 469.6,132.2 471.2,130.5 472.9,130.8 474.5,130.1 475.6,130.2 476.8,129.1 478.0,128.6 478.8,126.9 479.8,126.7 481.1,125.9 481.9,123.7 482.6,123.8 483.2,121.2 483.9,120.7 484.7,119.1 485.6,119.2 486.5,117.6 487.5,117.8 488.7,118.9 489.3,120.1 490.6,121.6 491.7,122.8 492.2,124.7 492.9,126.1 493.7,126.6 494.3,128.9 495.4,130.4 496.1,131.1 496.5,132.9 497.2,133.5 497.8,134.8 498.7,135.9 499.8,137.0 500.4,138.4 501.5,139.4 502.0,140.1 503.7,139.9 504.6,141.1 505.9,140.8 507.8,141.0 509.1,140.8 510.3,142.0 511.5,142.0"/>
<path class="h" d="M386.0,140.8 L386.9,140.5 L387.9,141.1 L389.0,140.9 L389.9,140.7 L391.1,140.7 L392.1,141.0 L393.0,140.1 L394.1,140.2 L394.9,140.7 L396.1,140.9 L397.1,140.3 L397.9,140.3 L399.1,140.3 L399.9,140.3 L400.9,140.3 L402.0,140.5 L402.9,141.3 L403.9,141.3 L405.1,141.1 L406.0,141.2 L407.0,140.6 L407.9,140.5 L409.0,141.2 L410.0,140.2 L411.1,140.5 L412.1,140.0 L413.1,138.9 L414.3,138.4 L414.7,137.8 L415.2,136.6 L415.6,136.5 L416.3,135.6 L416.7,134.7 L417.7,133.7 L418.5,133.0 L419.2,132.1 L420.1,131.2 L420.9,130.7 L421.5,130.2 L422.2,128.8 L422.8,127.9 L423.4,128.0 L424.2,127.3 L425.0,125.8 L425.6,125.3 L426.1,123.2 L426.6,122.2 L427.4,121.3 L428.2,121.5 L428.8,120.5 L429.6,119.5 L430.3,118.5 L430.9,117.2 L431.5,116.4 L431.8,116.2 L432.6,115.1 L433.0,113.8 L433.3,112.7 L434.0,112.3 L434.2,110.7 L434.5,110.2 L434.5,109.2 L434.8,107.9 L434.9,106.5 L435.3,105.9 L435.5,105.3 L435.7,103.5 L435.8,103.4 L436.0,101.5 L436.1,101.5 L436.5,99.7 L436.5,99.2 L436.9,97.5 L437.3,96.8 L437.5,95.0 L437.8,94.6 L438.1,93.0 L438.7,92.9 L439.1,91.5 L439.6,90.5 L439.8,89.2 L440.3,88.1 L440.7,87.3 L441.0,86.6 L441.2,85.5 L441.6,83.7 L441.7,82.8 L442.0,81.6 L442.2,82.6 L442.8,83.4 L443.0,84.8 L443.4,85.9 L443.9,85.8 L444.6,87.5"/>
<path class="h" d="M425.4,140.8 L426.7,140.6 L428.2,139.6 L429.0,140.3 L430.1,138.8 L430.9,139.1 L431.5,138.7 L432.2,136.9 L433.1,136.3 L433.5,134.8 L434.3,133.5 L434.7,133.6 L435.0,132.8 L435.7,131.3 L435.9,129.7 L436.0,130.1 L436.5,127.8 L437.0,127.7 L436.9,126.0 L437.2,124.9 L437.4,124.3 L437.8,123.1 L438.0,121.7 L438.2,121.9 L438.7,120.4 L438.6,118.6 L438.8,117.9 L438.9,116.8 L439.2,115.6 L439.6,115.0 L439.7,113.8 L439.9,113.4 L440.0,111.2 L440.4,110.5 L440.8,108.9 L441.2,107.6 L441.3,107.1 L441.4,106.8 L441.8,104.6 L442.0,104.3 L442.0,102.4 L442.5,102.4 L442.6,100.9 L442.9,99.6 L443.3,99.7 L443.2,97.1 L443.3,97.2 L443.4,94.9 L443.4,94.7 L443.8,92.9 L443.9,92.6 L444.3,91.7 L444.2,90.6 L444.6,89.6 L444.7,88.1 L444.9,87.6 L445.3,86.4 L445.4,84.4 L445.7,84.1 L446.1,82.3 L446.3,82.3 L446.5,81.1 L446.9,79.5 L447.1,78.6 L446.7,78.0 L447.0,77.0 L447.2,74.7 L446.9,73.5 L447.4,73.7 L447.2,71.6 L447.8,71.8 L448.6,71.1 L448.8,69.7 L448.9,67.4 L448.6,67.5 L449.0,65.5 L448.8,64.3 L449.3,65.6 L449.8,66.1 L450.0,67.0 L450.6,65.7 L451.4,64.6 L452.1,64.1 L452.2,63.1 L452.3,60.9 L452.5,60.3 L452.8,59.0 L453.0,58.7 L453.5,59.3 L454.2,60.2 L455.0,61.3 L455.3,62.3 L456.3,63.8 L456.3,65.9 L456.9,67.1 L457.1,68.0 L457.2,68.1 L457.7,69.6 L457.9,70.4 L458.1,70.9 L458.1,72.1 L458.1,74.2 L458.4,75.1 L458.6,76.0 L459.2,76.9 L459.2,77.9 L459.8,79.2 L459.8,79.6 L459.8,81.3 L460.1,81.5 L460.2,82.5 L460.6,84.1 L460.7,85.1 L461.2,85.7 L461.1,87.4 L461.7,89.1 L461.7,88.8 L462.1,91.3 L462.3,91.6 L462.2,92.8 L462.6,94.5 L462.7,94.7 L462.8,95.8 L463.1,96.5 L463.3,98.6 L463.4,98.6 L463.6,100.7 L463.9,101.7 L464.4,102.9 L464.5,102.9 L464.6,105.0 L464.7,105.8 L465.1,107.4 L465.0,107.2 L465.1,108.5 L465.5,109.6 L465.8,111.2 L465.8,112.5 L465.8,113.2 L466.0,113.7 L466.0,115.5 L466.6,115.2 L466.6,116.3 L466.6,117.7 L467.0,118.9 L467.0,119.8 L467.1,120.6 L467.2,121.2 L467.6,123.4 L467.8,123.6 L468.2,124.3 L468.1,125.7 L468.1,127.7 L468.7,127.4 L468.7,129.5 L469.1,129.7 L470.3,130.5 L471.5,131.5"/>
<line x1="427.2" y1="121.9" x2="441.3" y2="107.8" stroke="#000" stroke-width="1.3"/>
<line x1="436.6" y1="99.5" x2="443.4" y2="94.5" stroke="#000" stroke-width="1.3"/>
<line x1="439.1" y1="91.5" x2="444.4" y2="88" stroke="#000" stroke-width="1.3"/>
<line x1="385.8" y1="142" x2="385.8" y2="132" stroke="#000" stroke-width="1.4"/>
<path class="d" d="M387.0,134.0 L388.6,132.8 L390.7,131.4 L394.0,125.8 L395.9,118.0 L397.8,110.3 L399.9,102.6 L401.3,94.8 L402.7,87.1 L404.0,79.9 L405.4,72.2 L406.1,65.2 L406.8,58.1 L407.5,50.4 L408.6,44.1 L410.0,37.7 L411.7,42.0 L413.1,49.7 L414.1,57.4 L414.8,65.2 L415.7,72.9 L416.2,80.6 L416.8,87.1 L417.5,94.8 L418.2,102.6 L419.3,110.3 L420.3,118.8 L421.3,125.8 L422.4,131.4 L423.2,134.5"/>
<rect x="53.5" y="189.1" width="368.5" height="195.6" fill="none" stroke="#000" stroke-width="1.3"/>
<polyline points="49.3,194 53.5,189.1" fill="none" stroke="#000" stroke-width="1.3"/>
<line x1="49.3" y1="193.6" x2="49.3" y2="389.6" stroke="#000" stroke-width="1.4"/>
<line x1="49.3" y1="389.6" x2="417.6" y2="389.6" stroke="#000" stroke-width="1.4"/>
<line x1="417.6" y1="389.6" x2="422" y2="384.7" stroke="#000" stroke-width="1.3"/>
<line x1="49.3" y1="389.6" x2="53.5" y2="384.7" stroke="#000" stroke-width="1.3"/>
<line x1="46.7" y1="193.9" x2="49.3" y2="193.9" stroke="#000" stroke-width="1.1"/>
<text class="t" x="42.4" y="198.2" font-size="8.5" font-weight="bold" text-anchor="end">3000</text>
<line x1="46.7" y1="258.8" x2="49.3" y2="258.8" stroke="#000" stroke-width="1.1"/>
<text class="t" x="42.4" y="263.1" font-size="8.5" font-weight="bold" text-anchor="end">2000</text>
<line x1="46.7" y1="323.7" x2="49.3" y2="323.7" stroke="#000" stroke-width="1.1"/>
<text class="t" x="42.4" y="328.0" font-size="8.5" font-weight="bold" text-anchor="end">1000</text>
<line x1="47.8" y1="226.4" x2="49.3" y2="226.4" stroke="#000" stroke-width="1.1"/>
<line x1="47.8" y1="291.2" x2="49.3" y2="291.2" stroke="#000" stroke-width="1.1"/>
<line x1="47.8" y1="356.2" x2="49.3" y2="356.2" stroke="#000" stroke-width="1.1"/>
<text x="41.4" y="393" font-family="Liberation Serif,serif" font-size="10" font-weight="bold" text-anchor="middle">0</text>
<line x1="49.3" y1="389.6" x2="49.3" y2="391.8" stroke="#000" stroke-width="1.1"/>
<text x="49.5" y="403" font-family="Liberation Serif,serif" font-size="10.5" font-weight="bold" text-anchor="middle">0</text>
<line x1="196.8" y1="389.6" x2="196.8" y2="391.8" stroke="#000" stroke-width="1.1"/>
<text x="197.0" y="403" font-family="Liberation Serif,serif" font-size="10.5" font-weight="bold" text-anchor="middle">10</text>
<line x1="344.3" y1="389.6" x2="344.3" y2="391.8" stroke="#000" stroke-width="1.1"/>
<text x="344.5" y="403" font-family="Liberation Serif,serif" font-size="10.5" font-weight="bold" text-anchor="middle">20</text>
<line x1="123.0" y1="389.6" x2="123.0" y2="391" stroke="#000" stroke-width="1"/>
<line x1="270.6" y1="389.6" x2="270.6" y2="391" stroke="#000" stroke-width="1"/>
<line x1="418.1" y1="389.6" x2="418.1" y2="391" stroke="#000" stroke-width="1"/>
<text class="t" x="242.8" y="423.8" font-size="10.5" font-weight="bold" text-anchor="middle">HA-peptide Concentration (ug/mL)</text>
<text class="t" transform="translate(11.3,293.3) rotate(-90)" font-size="11.1" font-weight="bold" text-anchor="middle">IL-2 Production (pg/mL)</text>
<polyline points="62.5,302.5 75.4,277.4 98.8,273.0 143.2,270.8 235.2,276.3 419.3,260.4" fill="none" stroke="#000" stroke-width="1.3"/>
<line x1="52.6" y1="386" x2="63.4" y2="311.5" stroke="#000" stroke-width="2"/>
<polyline points="52.0,387.0 63.4,311.5 75.4,290.8 98.6,284.6 143.2,280.9 235.2,285.1 419.3,270.9" fill="none" stroke="#000" stroke-width="1.3"/>
<line x1="75.4" y1="270" x2="75.4" y2="277" stroke="#000" stroke-width="1.2"/><line x1="74.2" y1="270" x2="76.60000000000001" y2="270" stroke="#000" stroke-width="1.1"/>
<line x1="98.4" y1="262" x2="98.4" y2="273" stroke="#000" stroke-width="1.2"/><line x1="97.2" y1="262" x2="99.60000000000001" y2="262" stroke="#000" stroke-width="1.1"/>
<line x1="143.2" y1="259.8" x2="143.2" y2="270.8" stroke="#000" stroke-width="1.2"/><line x1="142.0" y1="259.8" x2="144.39999999999998" y2="259.8" stroke="#000" stroke-width="1.1"/>
<line x1="418.8" y1="248.4" x2="418.8" y2="260.4" stroke="#000" stroke-width="1.2"/><line x1="417.6" y1="248.4" x2="420.0" y2="248.4" stroke="#000" stroke-width="1.1"/>
<line x1="75.4" y1="290.8" x2="75.4" y2="297.7" stroke="#000" stroke-width="1.2"/><line x1="74.2" y1="297.7" x2="76.60000000000001" y2="297.7" stroke="#000" stroke-width="1.1"/>
<line x1="98.4" y1="276.5" x2="98.4" y2="284.6" stroke="#000" stroke-width="1.2"/><line x1="97.2" y1="284.6" x2="99.60000000000001" y2="284.6" stroke="#000" stroke-width="1.1"/>
<line x1="143.2" y1="280.9" x2="143.2" y2="287.7" stroke="#000" stroke-width="1.2"/><line x1="142.0" y1="287.7" x2="144.39999999999998" y2="287.7" stroke="#000" stroke-width="1.1"/>
<line x1="418.8" y1="270.9" x2="418.8" y2="275.8" stroke="#000" stroke-width="1.2"/><line x1="417.6" y1="275.8" x2="420.0" y2="275.8" stroke="#000" stroke-width="1.1"/>
<line x1="53.6" y1="315.3" x2="53.6" y2="351.2" stroke="#000" stroke-width="1.2"/>
<line x1="50" y1="315.3" x2="57" y2="315.3" stroke="#000" stroke-width="1.1"/>
<line x1="50.2" y1="351.2" x2="56.6" y2="351.2" stroke="#000" stroke-width="1.1"/>
<polygon points="53.5,328.4 46.2,337.8 60.8,337.8" fill="#000"/>
<rect x="59.3" y="299.3" width="6.4" height="6.4" fill="#fff" stroke="#000" stroke-width="1.1"/>
<rect x="72.2" y="274.2" width="6.4" height="6.4" fill="#fff" stroke="#000" stroke-width="1.1"/>
<rect x="95.6" y="269.8" width="6.4" height="6.4" fill="#fff" stroke="#000" stroke-width="1.1"/>
<rect x="140.0" y="267.6" width="6.4" height="6.4" fill="#fff" stroke="#000" stroke-width="1.1"/>
<rect x="232.0" y="273.1" width="6.4" height="6.4" fill="#fff" stroke="#000" stroke-width="1.1"/>
<rect x="416.1" y="257.2" width="6.4" height="6.4" fill="#fff" stroke="#000" stroke-width="1.1"/>
<circle cx="63.4" cy="311.5" r="3.6" fill="#000"/>
<circle cx="75.4" cy="290.8" r="3.6" fill="#000"/>
<circle cx="98.6" cy="284.6" r="3.6" fill="#000"/>
<circle cx="143.2" cy="280.9" r="3.6" fill="#000"/>
<circle cx="235.2" cy="285.1" r="3.6" fill="#000"/>
<circle cx="419.3" cy="270.9" r="3.6" fill="#000"/>
<rect x="48.3" y="383.5" width="7.4" height="7.4" fill="#000"/></svg></body></html>
